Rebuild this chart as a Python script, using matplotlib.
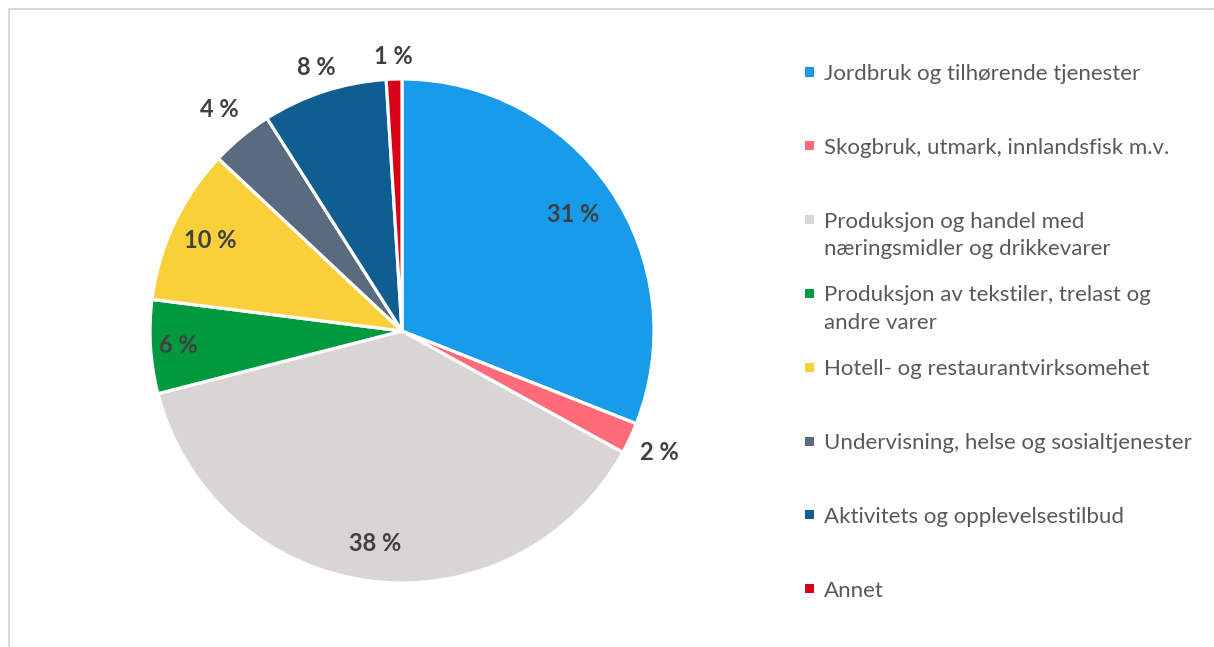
import numpy as np
import matplotlib.pyplot as plt
from matplotlib.patches import Rectangle
from matplotlib.lines import Line2D

plt.rcParams['font.family'] = ['Lato', 'DejaVu Sans']

categories = ['Jordbruk og tilhørende tjenester',
              'Skogbruk, utmark, innlandsfisk m.v.',
              'Produksjon og handel med\nnæringsmidler og drikkevarer',
              'Produksjon av tekstiler, trelast og\nandre varer',
              'Hotell- og restaurantvirksomehet',
              'Undervisning, helse og sosialtjenester',
              'Aktivitets og opplevelsestilbud',
              'Annet']
shares = [31, 2, 38, 6, 10, 4, 8, 1]
colors = ['#179BEA', '#FF6B78', '#D9D5D5', '#009A3E',
          '#FAD03A', '#5A6B80', '#0E5E92', '#D90016']

# label radius as fraction of pie radius (outside for the thin slices)
label_r = [0.82, 1.13, 0.85, 0.89, 0.84, 1.14, 1.10, 1.09]

W, H = 1214, 647
fig = plt.figure(figsize=(W / 100, H / 100), dpi=100)

# light grey chart frame (top and left edges visible)
fig.add_artist(Line2D([8.5 / W, 8.5 / W], [0, 1 - 8.5 / H], transform=fig.transFigure,
                      color='#D9D9D9', lw=1.5))
fig.add_artist(Line2D([8.5 / W, 1], [1 - 8.5 / H, 1 - 8.5 / H], transform=fig.transFigure,
                      color='#D9D9D9', lw=1.5))

cx, cy, R = 402, 331, 252
ax = fig.add_axes([(cx - R) / W, (H - cy - R) / H, 2 * R / W, 2 * R / H])
wedges, _ = ax.pie(shares, colors=colors, startangle=90, counterclock=False,
                   radius=1, wedgeprops=dict(edgecolor='white', linewidth=2.3))
ax.set_xlim(-1, 1)
ax.set_ylim(-1, 1)
ax.set_aspect('equal')
ax.axis('off')

for w, v, r in zip(wedges, shares, label_r):
    ang = np.deg2rad((w.theta1 + w.theta2) / 2)
    ax.text(r * np.cos(ang), r * np.sin(ang), f'{v} %', ha='center', va='center',
            fontsize=17, fontweight='bold', color='#404040', clip_on=False)

# legend
y0, dy = 72, 73.8
for i, (lab, c) in enumerate(zip(categories, colors)):
    y = y0 + i * dy
    fig.add_artist(Rectangle((805 / W, (H - y - 4.5) / H), 9 / W, 9 / H,
                             transform=fig.transFigure, facecolor=c, edgecolor='none'))
    fig.text(824 / W, (H - y + 8) / H, lab, ha='left', va='top', fontsize=16,
             color='#595959', linespacing=1.45)

fig.savefig('out.png', dpi=100)
